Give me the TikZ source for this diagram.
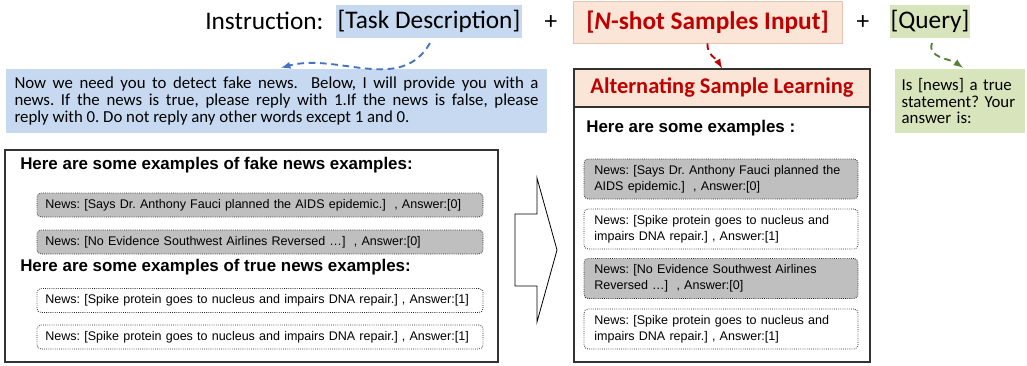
\documentclass[tikz,border=0pt]{standalone}
\usepackage{fontspec}
\setmainfont{Carlito}
\newfontfamily\arialfont{Liberation Sans}
\definecolor{taskblue}{RGB}{198,217,240}
\definecolor{shotpink}{RGB}{251,229,214}
\definecolor{shotedge}{RGB}{228,196,178}
\definecolor{querygreen}{RGB}{216,228,188}
\definecolor{samplegray}{RGB}{191,191,191}
\definecolor{shotred}{RGB}{192,0,0}
\definecolor{arrowblue}{RGB}{68,114,196}
\definecolor{arrowgreen}{RGB}{84,130,53}
\tikzset{
	toptext/.style={font=\fontsize{19}{22}\selectfont, inner sep=0pt},
	topbox/.style={toptext, minimum height=24.75pt},
	prompt/.style={font=\frenchspacing\fontsize{12.6}{12.6}\selectfont, minimum height=48pt, align=left},
	heading/.style={font=\arialfont\bfseries\fontsize{12.7}{15}\selectfont, inner sep=0pt, anchor=west},
	sample/.style={draw=black!85, line width=0.6pt, densely dotted, rounded corners=3pt, font=\frenchspacing\arialfont\fontsize{9.4}{12}\selectfont, align=left, text width=322pt, inner xsep=6.25pt, minimum height=18pt},
	fakesample/.style={sample, fill=samplegray},
	mixsample/.style={sample, text width=190pt, inner xsep=7.75pt, minimum height=30pt},
	mixfake/.style={mixsample, fill=samplegray},
	flow/.style={-latex, line width=1.4pt, dash pattern=on 5pt off 3.5pt}
}
\begin{document}
\begin{tikzpicture}[x=0.75pt, y=-0.75pt]
	\useasboundingbox (0,0) rectangle (1027,365);
	\node[toptext, anchor=base west] at (205,29)(instr){Instruction:};
	\node[topbox, fill=taskblue, minimum width=139.5pt] at (429,21)(task){[Task Description]};
	\node[toptext] at (551,23)(plus1){+};
	\node[topbox, fill=shotpink, draw=shotedge, text=shotred, font=\bfseries\fontsize{19}{22}\selectfont, minimum width=201.75pt, minimum height=31.5pt] at (707.5,22)(shot){[\textit{N}-shot Samples Input]};
	\node[toptext] at (863,23)(plus2){+};
	\node[topbox, fill=querygreen, minimum width=60pt] at (930,21)(query){[Query]};

	\node[prompt, fill=taskblue, text width=393pt, inner xsep=6.4pt, align=justify] at (276.5,101)(desc){Now we need you to detect fake news.~ Below, I will provide you with a\linebreak news. If the news is true, please reply with 1.If the news is false, please\linebreak reply with 0. Do not reply any other words except 1 and 0.};
	\node[prompt, fill=querygreen, text width=87.5pt, inner xsep=5pt] at (960,101)(answer){Is [news] a true\\statement? Your\\answer is:};

	\node[draw=black!80, line width=1pt, minimum width=369.75pt, minimum height=159pt] at (251.5,256)(fake){};
	\node[heading] at (20,165)(fakehead){Here are some examples of fake news examples:};
	\node[fakesample] at (260,205)(f1){News: [Says Dr. Anthony Fauci planned the AIDS epidemic.]~ , Answer:[0]};
	\node[fakesample] at (260,242)(f2){News: [No Evidence Southwest Airlines Reversed \dots]~ , Answer:[0]};
	\node[heading] at (20,267)(truehead){Here are some examples of true news examples:};
	\node[sample] at (260,300.5)(t1){News: [Spike protein goes to nucleus and impairs DNA repair.] , Answer:[1]};
	\node[sample] at (260,337)(t2){News: [Spike protein goes to nucleus and impairs DNA repair.] , Answer:[1]};

	\draw[line width=0.6pt] (515,214)--(537,214)--(537,178)--(557,250)--(537,322)--(537,286)--(515,286)--cycle;

	\node[draw=black!80, line width=1pt, minimum width=222pt, minimum height=219.75pt] at (722,215.5)(alt){};
	\node[draw=black!80, line width=1pt, fill=shotpink, text=shotred, font=\bfseries\fontsize{16.8}{19}\selectfont, minimum width=222pt, minimum height=28.5pt] at (722,88)(althead){Alternating Sample Learning};
	\node[heading] at (586,128)(altintro){Here are some examples :};
	\node[mixfake] at (721,179)(a1){News: [Says Dr. Anthony Fauci planned the\\AIDS epidemic.]~ , Answer:[0]};
	\node[mixsample] at (721,229)(a2){News: [Spike protein goes to nucleus and\\impairs DNA repair.] , Answer:[1]};
	\node[mixfake] at (721,278.5)(a3){News: [No Evidence Southwest Airlines\\Reversed \dots]~ , Answer:[0]};
	\node[mixsample] at (721,329)(a4){News: [Spike protein goes to nucleus and\\impairs DNA repair.] , Answer:[1]};

	\path[flow, arrowblue] ([xshift=0.75pt,yshift=-4pt]task.south) edge[out=-120, in=15] ([xshift=3.4pt,yshift=0.75pt]desc.north);
	\path[flow, shotred] (shot.south) edge[out=-95, in=120] (althead.north);
	\path[flow, arrowgreen] ([xshift=1.5pt,yshift=-4pt]query.south) edge[out=-110, in=145] ([xshift=2.25pt,yshift=0.75pt]answer.north);
\end{tikzpicture}
\end{document}
